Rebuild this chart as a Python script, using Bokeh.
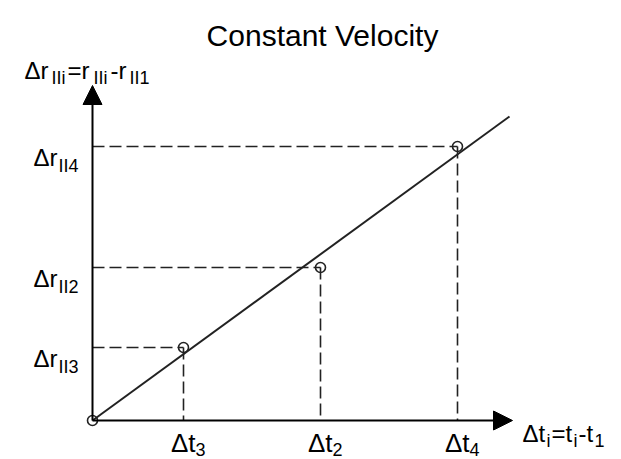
from bokeh.plotting import figure
from bokeh.models import Range1d, Arrow, NormalHead
from bokeh.core.properties import value
from bokeh.embed import file_html
from bokeh.resources import INLINE

# Measured displacement / time differences (same arbitrary units on both axes)
dt_values = [91, 228, 365]           # Δt3, Δt2, Δt4
dr_values = [73, 153, 274]           # Δr||3, Δr||2, Δr||4
t_subs = ["3", "2", "4"]
r_subs = ["II3", "II2", "II4"]

# Best-fit constant-velocity line through the origin
fit_x = [0, 417]
fit_y = [0, 304]

# Axis extents
x_axis_end = 420
y_axis_end = 335

FONT = value("'Liberation Sans Narrow', 'Arial Narrow', 'Liberation Sans', Arial, sans-serif")
INK = "#222222"

p = figure(width=621, height=459, output_backend="svg", toolbar_location=None,
           x_range=Range1d(-92, 529), y_range=Range1d(-39, 420),
           min_border=0, outline_line_color=None)
p.axis.visible = False
p.grid.visible = False

# Axes with arrow heads
p.add_layout(Arrow(end=NormalHead(size=19, fill_color="black", line_color="black"),
                   x_start=0, y_start=0, x_end=x_axis_end, y_end=0,
                   line_width=2, line_color="black"))
p.add_layout(Arrow(end=NormalHead(size=19, fill_color="black", line_color="black"),
                   x_start=0, y_start=0, x_end=0, y_end=y_axis_end,
                   line_width=2, line_color="black"))

# Dashed projections of each measurement onto both axes
p.segment(x0=[0] * len(dt_values), y0=dr_values, x1=dt_values, y1=dr_values,
          line_color=INK, line_width=1.6, line_dash="12 5")
p.segment(x0=dt_values, y0=dr_values, x1=dt_values, y1=[0] * len(dt_values),
          line_color=INK, line_width=1.6, line_dash="12 5")

# Fitted line
p.line(fit_x, fit_y, line_color=INK, line_width=2)

# Measurement markers (origin included)
p.scatter([0] + dt_values, [0] + dr_values, marker="circle", size=10,
          fill_color=None, line_color=INK, line_width=1.6)

# Title
p.text(x=[230], y=[385], text=["Constant Velocity"], text_font=FONT,
       text_font_size="30px", text_align="center", text_baseline="alphabetic",
       text_color="black")

# Tick labels on the time axis: Δt with subscript
p.text(x=[t + 12 for t in dt_values], y=[-22] * 3, text=["Δt"] * 3,
       text_font=FONT, text_font_size="26px", text_align="right",
       text_baseline="alphabetic", text_color="black")
p.text(x=[t + 12 for t in dt_values], y=[-29] * 3, text=t_subs,
       text_font=FONT, text_font_size="18px", text_align="left",
       text_baseline="alphabetic", text_color="black")

# Tick labels on the displacement axis: Δr with subscript
p.text(x=[-35] * 3, y=[r - 11 for r in dr_values], text=["Δr"] * 3,
       text_font=FONT, text_font_size="24px", text_align="right",
       text_baseline="alphabetic", text_color="black")
p.text(x=[-34] * 3, y=[r - 19 for r in dr_values], text=r_subs,
       text_font=FONT, text_font_size="18px", text_align="left",
       text_baseline="alphabetic", text_color="black")

# Axis titles built from main text + subscript pieces
y_main_x = [-68, -25, 18]
y_main_t = ["Δr", "=r", "-r"]
y_sub_x = [-41, 1, 37]
y_sub_t = ["IIi", "IIi", "II1"]
p.text(x=y_main_x, y=[350] * 3, text=y_main_t, text_font=FONT,
       text_font_size="24px", text_align="left", text_baseline="alphabetic",
       text_color="black")
p.text(x=y_sub_x, y=[343] * 3, text=y_sub_t, text_font=FONT,
       text_font_size="18px", text_align="left", text_baseline="alphabetic",
       text_color="black")

x_main_x = [430, 459, 486]
x_main_t = ["Δt", "=t", "-t"]
x_sub_x = [454, 481, 502]
x_sub_t = ["i", "i", "1"]
p.text(x=x_main_x, y=[-13] * 3, text=x_main_t, text_font=FONT,
       text_font_size="24px", text_align="left", text_baseline="alphabetic",
       text_color="black")
p.text(x=x_sub_x, y=[-20] * 3, text=x_sub_t, text_font=FONT,
       text_font_size="18px", text_align="left", text_baseline="alphabetic",
       text_color="black")

open("out.html", "w").write(file_html(p, INLINE))
